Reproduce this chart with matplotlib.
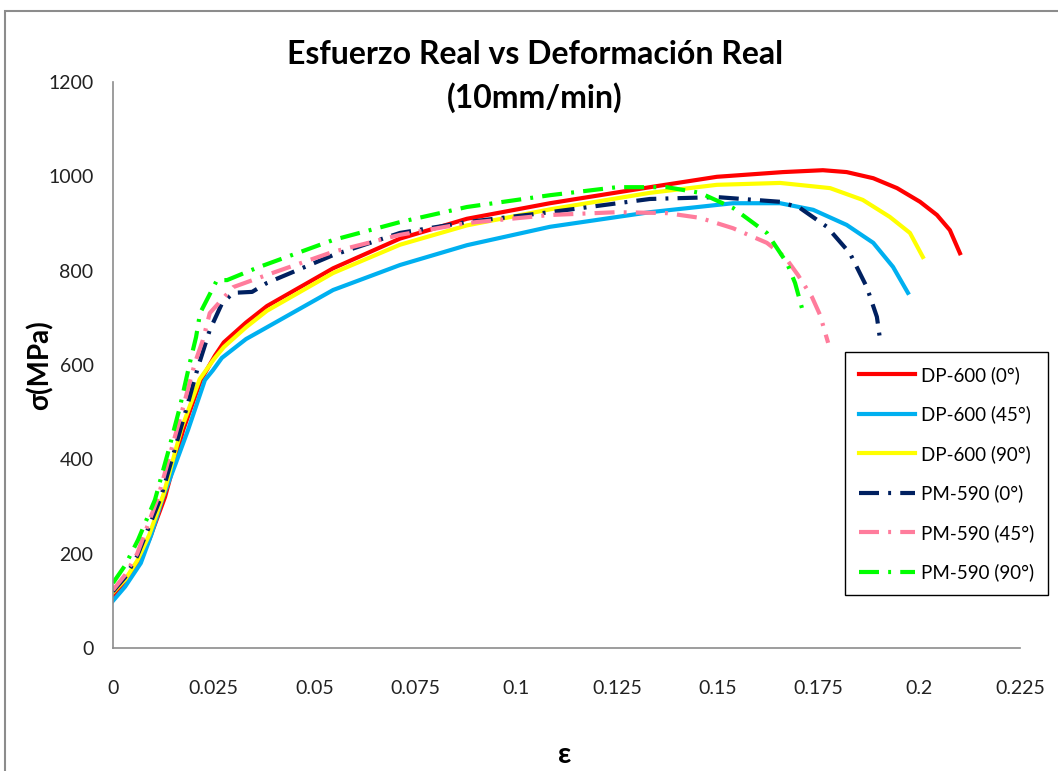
import matplotlib
matplotlib.use("Agg")
import matplotlib.pyplot as plt
from matplotlib.patches import Rectangle

plt.rcParams["font.family"] = ["Lato", "DejaVu Sans"]

# datos (deformacion real, esfuerzo real MPa)
dp0_eps = [0, 0.003, 0.006, 0.009, 0.0129, 0.0174, 0.0218, 0.0253, 0.0275, 0.033, 0.0382,
           0.0546, 0.0712, 0.0878, 0.1084, 0.1332, 0.1498, 0.1662, 0.1761, 0.182, 0.1886,
           0.1945, 0.2002, 0.2044, 0.2076, 0.2101]
dp0_sig = [110, 135, 175, 230, 320, 462, 568, 620, 648, 690, 725,
           805, 868, 910, 943, 977, 999, 1009, 1013, 1009, 996,
           975, 946, 918, 886, 837]

dp45_eps = [0, 0.003, 0.0069, 0.0095, 0.0124, 0.0155, 0.0186, 0.0228, 0.0248, 0.027, 0.033,
            0.0382, 0.0546, 0.0712, 0.0878, 0.1084, 0.1332, 0.1538, 0.1655, 0.1737, 0.182,
            0.1886, 0.1935, 0.1972]
dp45_sig = [100, 130, 180, 240, 320, 390, 462, 568, 589, 615, 655,
            680, 759, 812, 854, 893, 924, 943, 943, 929, 897,
            859, 808, 753]

dp90_eps = [0, 0.003, 0.006, 0.009, 0.0125, 0.017, 0.0215, 0.025, 0.0275, 0.033, 0.0382,
            0.0546, 0.0712, 0.0878, 0.1084, 0.1332, 0.1498, 0.1655, 0.1779, 0.186, 0.1927,
            0.1977, 0.2009]
dp90_sig = [118, 145, 185, 240, 325, 465, 570, 612, 638, 680, 715,
            795, 855, 896, 930, 965, 982, 986, 975, 950, 914,
            880, 829]

pm0_eps = [0, 0.003, 0.006, 0.0119, 0.0179, 0.0211, 0.024, 0.027, 0.0298, 0.0345, 0.0382,
           0.0546, 0.0712, 0.0878, 0.1084, 0.1332, 0.1498, 0.1655, 0.1704, 0.1771, 0.1828,
           0.187, 0.1895, 0.1903]
pm0_sig = [120, 150, 195, 320, 498, 596, 674, 730, 753, 755, 774,
           833, 880, 903, 924, 952, 956, 946, 933, 893, 837,
           765, 702, 653]

pm45_eps = [0, 0.003, 0.006, 0.0112, 0.0174, 0.0203, 0.0223, 0.024, 0.0298, 0.0382, 0.0546,
            0.0712, 0.0878, 0.1084, 0.125, 0.1374, 0.1456, 0.1538, 0.1622, 0.1667, 0.1699,
            0.1734, 0.1754, 0.1774]
pm45_sig = [123, 155, 200, 320, 511, 604, 653, 710, 765, 791, 840,
            876, 901, 918, 924, 922, 912, 890, 859, 829, 791,
            744, 706, 647]

pm90_eps = [0, 0.003, 0.0062, 0.0104, 0.0136, 0.0166, 0.0191, 0.0206, 0.0216, 0.0258, 0.0283,
            0.0357, 0.0546, 0.0712, 0.0878, 0.1084, 0.125, 0.1374, 0.1456, 0.1538, 0.1622,
            0.1672, 0.1692, 0.1709]
pm90_sig = [138, 175, 229, 314, 413, 511, 606, 659, 710, 780, 780,
            806, 865, 903, 935, 960, 977, 977, 965, 933, 880,
            816, 774, 721]

labels = ["DP-600 (0°)", "DP-600 (45°)", "DP-600 (90°)",
          "PM-590 (0°)", "PM-590 (45°)", "PM-590 (90°)"]
x_ticks = [0, 0.025, 0.05, 0.075, 0.1, 0.125, 0.15, 0.175, 0.2, 0.225]
x_ticklabels = ["0", "0.025", "0.05", "0.075", "0.1", "0.125", "0.15", "0.175", "0.2", "0.225"]
y_ticks = [0, 200, 400, 600, 800, 1000, 1200]

W, H = 1058, 771
fig = plt.figure(figsize=(W / 100, H / 100), dpi=100)
fig.patch.set_facecolor("white")

# marco exterior del grafico (estilo Excel)
fig.patches.append(Rectangle((5 / W, -0.1), 1.2, (H - 11) / H + 0.1,
                             transform=fig.transFigure, fill=False,
                             edgecolor="#8C8C8C", linewidth=1.5))

ax = fig.add_axes([113 / W, 1 - 648 / H, (1020 - 113) / W, (648 - 82) / H])

dashdot = (0, (4.8, 2.2, 0.7, 2.2))
ax.plot(dp0_eps, dp0_sig, color="#FF0000", lw=3, label=labels[0])
ax.plot(dp45_eps, dp45_sig, color="#00B0F0", lw=3, label=labels[1])
ax.plot(dp90_eps, dp90_sig, color="#FFFF00", lw=3, label=labels[2])
ax.plot(pm0_eps, pm0_sig, color="#002060", lw=3, ls=dashdot, label=labels[3])
ax.plot(pm45_eps, pm45_sig, color="#FF7C9C", lw=3, ls=dashdot, label=labels[4])
ax.plot(pm90_eps, pm90_sig, color="#00FF00", lw=3, ls=dashdot, label=labels[5])

ax.set_xlim(0, 0.225)
ax.set_ylim(0, 1200)
ax.set_xticks(x_ticks)
ax.set_xticklabels(x_ticklabels)
ax.set_yticks(y_ticks)
ax.tick_params(axis="both", length=0, labelsize=14, colors="#222222")
ax.tick_params(axis="x", pad=23)
ax.tick_params(axis="y", pad=14)

for s in ["top", "right"]:
    ax.spines[s].set_visible(False)
for s in ["left", "bottom"]:
    ax.spines[s].set_color("#8C8C8C")
    ax.spines[s].set_linewidth(1.2)

fig.text(535 / W, 1 - 54 / H, "Esfuerzo Real vs Deformación Real",
         ha="center", va="center", fontsize=23, fontweight="bold")
fig.text(535 / W, 1 - 98 / H, "(10mm/min)",
         ha="center", va="center", fontsize=23, fontweight="bold")
fig.text(40 / W, 1 - 365 / H, "σ(MPa)", rotation=90,
         ha="center", va="center", fontsize=20, fontweight="bold")
fig.text(565 / W, 1 - 755 / H, "ε",
         ha="center", va="center", fontsize=21, fontweight="bold")

leg = ax.legend(loc="upper left", bbox_to_anchor=(845 / W, 1 - 352 / H),
                bbox_transform=fig.transFigure, borderaxespad=0,
                fontsize=13.5, handlelength=3.0, handletextpad=0.3,
                labelspacing=1.15, fancybox=False, framealpha=1,
                borderpad=0.75)
leg.get_frame().set_edgecolor("#000000")
leg.get_frame().set_linewidth(1.0)

fig.savefig("out.png", dpi=100)
